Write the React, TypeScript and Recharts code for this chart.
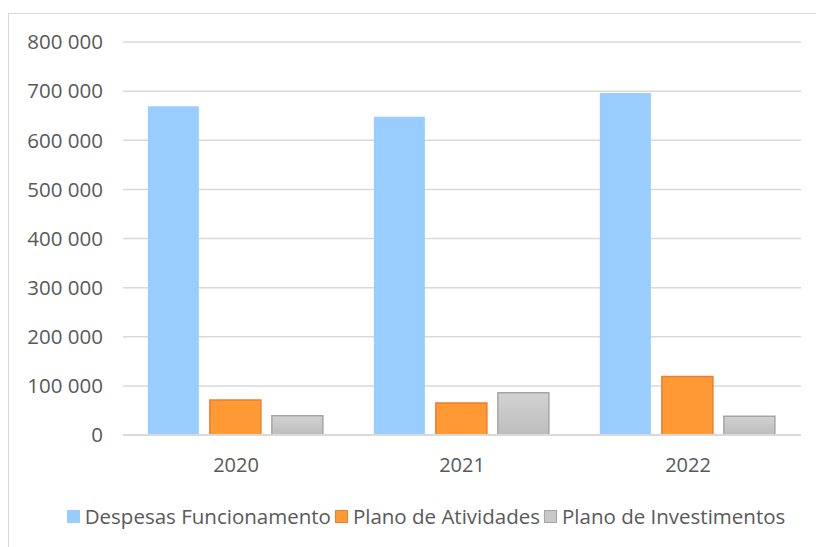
import { BarChart, Bar, XAxis, YAxis, CartesianGrid, Legend } from "recharts";

const years = ["2020", "2021", "2022"];
const despesasFuncionamento = [669000, 648000, 696000];
const planoAtividades = [71000, 65000, 119000];
const planoInvestimentos = [39000, 86000, 38000];
const yTicks = [0, 100000, 200000, 300000, 400000, 500000, 600000, 700000, 800000];

const data = years.map((year, i) => ({
  year,
  despesas: despesasFuncionamento[i],
  atividades: planoAtividades[i],
  investimentos: planoInvestimentos[i],
}));

const font = "'Open Sans', 'Liberation Sans', sans-serif";
const textColor = "#595959";

const fmt = (v: number) => String(v).replace(/\B(?=(\d{3})+(?!\d))/g, " ");

const legendItems = [
  { label: "Despesas Funcionamento", fill: "#99ccff", stroke: "#99ccff" },
  { label: "Plano de Atividades", fill: "#ff9933", stroke: "#ed7d31" },
  { label: "Plano de Investimentos", fill: "#c8c8c8", stroke: "#a5a5a5" },
];

const LegendContent = () => (
  <div
    style={{
      display: "flex",
      justifyContent: "center",
      alignItems: "center",
      height: 24,
      paddingLeft: 32,
      fontFamily: font,
      fontSize: 20.5,
      color: textColor,
    }}
  >
    {legendItems.map((item) => (
      <div key={item.label} style={{ display: "flex", alignItems: "center", marginRight: 4 }}>
        <span
          style={{
            width: 11,
            height: 11,
            background: item.fill,
            border: `1px solid ${item.stroke}`,
            marginRight: 5,
            display: "inline-block",
          }}
        />
        <span>{item.label}</span>
      </div>
    ))}
  </div>
);

const App = () => {
  return (
    <div style={{ position: "fixed", left: 0, top: 0, width: 816, height: 547, overflow: "hidden", background: "#fff" }}>
      <div
        style={{
          marginLeft: 8,
          marginTop: 13,
          width: 830,
          height: 560,
          borderTop: "1.5px solid #d9d9d9",
          borderLeft: "1.5px solid #d9d9d9",
          boxSizing: "border-box",
        }}
      >
        <BarChart
          width={806}
          height={524}
          data={data}
          margin={{ top: 28, right: 14, bottom: 10, left: 0 }}
          barCategoryGap="11%"
          barGap={11}
        >
          <defs>
            <linearGradient id="grayGrad" x1="0" y1="0" x2="0" y2="1">
              <stop offset="0%" stopColor="#d2d2d2" />
              <stop offset="100%" stopColor="#bdbdbd" />
            </linearGradient>
          </defs>
          <CartesianGrid vertical={false} stroke="#d9d9d9" strokeWidth={1.5} />
          <XAxis
            dataKey="year"
            height={69}
            tickLine={false}
            axisLine={{ stroke: "#d9d9d9", strokeWidth: 2 }}
            tickMargin={17}
            tick={{ fill: textColor, fontSize: 20, fontFamily: font }}
          />
          <YAxis
            width={114}
            domain={[0, 800000]}
            ticks={yTicks}
            tickFormatter={fmt}
            tickLine={false}
            axisLine={false}
            tickMargin={14}
            tick={{ fill: textColor, fontSize: 20.5, fontFamily: font }}
          />
          <Legend verticalAlign="bottom" content={<LegendContent />} wrapperStyle={{ left: 0, width: 806 }} />
          <Bar dataKey="despesas" name="Despesas Funcionamento" fill="#99ccff" isAnimationActive={false} />
          <Bar
            dataKey="atividades"
            name="Plano de Atividades"
            fill="#ff9933"
            stroke="#ed7d31"
            strokeWidth={1.5}
            isAnimationActive={false}
          />
          <Bar
            dataKey="investimentos"
            name="Plano de Investimentos"
            fill="url(#grayGrad)"
            stroke="#a5a5a5"
            strokeWidth={1.5}
            isAnimationActive={false}
          />
        </BarChart>
      </div>
    </div>
  );
};

export default App;
